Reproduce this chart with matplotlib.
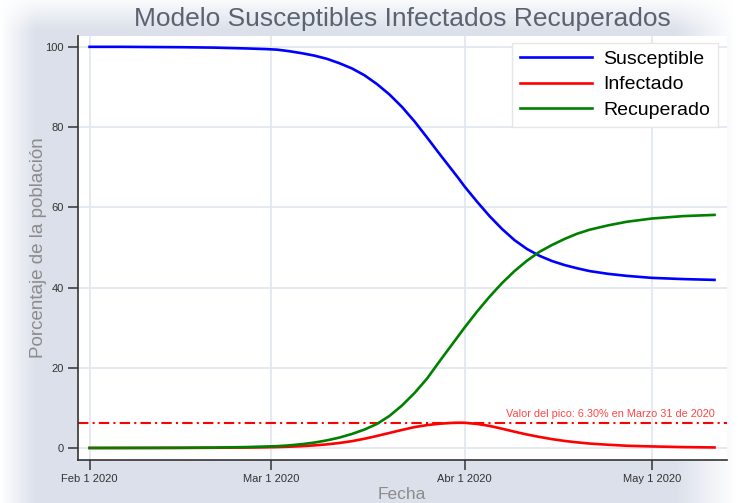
import numpy as np
import matplotlib
matplotlib.use("Agg")
import matplotlib.pyplot as plt

plt.rcParams['font.family'] = ['Liberation Sans', 'DejaVu Sans']

# dias desde el 1 de febrero de 2020
dias = [0, 5, 10, 15, 20, 25, 28,
        30, 32, 34, 36, 38, 40, 42, 44, 46, 48, 50, 52, 54, 56, 58,
        59,
        60, 62, 64, 66, 68, 70, 72, 74, 76, 78, 80,
        83, 86, 90, 95, 100]
susceptible = [100.0, 100.0, 99.95, 99.9, 99.8, 99.6, 99.45,
               99.3, 98.9, 98.4, 97.8, 97.0, 95.9, 94.6, 92.9, 90.7, 88.1, 85.0,
               81.4, 77.4, 73.3, 69.3,
               67.3,
               65.2, 61.4, 57.8, 54.6, 51.8, 49.6, 47.9, 46.6, 45.6, 44.8, 44.1,
               43.4, 42.9, 42.4, 42.1, 41.9]
infectado = [0.0, 0.0, 0.01, 0.02, 0.05, 0.1, 0.16,
             0.22, 0.32, 0.45, 0.65, 0.9, 1.25, 1.7, 2.3, 3.0, 3.75, 4.5, 5.2,
             5.7, 6.05, 6.25,
             6.3,
             6.28, 6.0, 5.5, 4.8, 4.05, 3.35, 2.75, 2.2, 1.75, 1.4, 1.1,
             0.8, 0.55, 0.38, 0.22, 0.13]
recuperado = [0.0, 0.01, 0.02, 0.05, 0.1, 0.22, 0.35,
              0.45, 0.65, 0.95, 1.35, 1.9, 2.6, 3.5, 4.6, 6.0, 8.0, 10.6, 13.7,
              17.3, 21.6, 25.8,
              27.9,
              30.0, 34.0, 37.7, 41.1, 44.1, 46.7, 48.9, 50.6, 52.1, 53.4, 54.4,
              55.5, 56.4, 57.2, 57.8, 58.1]
pico = 6.30
texto_pico = "Valor del pico: 6.30% en Marzo 31 de 2020"
ticks_fecha = ["2020-02-01", "2020-03-01", "2020-04-01", "2020-05-01"]
etiquetas_fecha = ["Feb 1 2020", "Mar 1 2020", "Abr 1 2020", "May 1 2020"]

fechas = np.datetime64("2020-02-01") + np.array(dias).astype("timedelta64[D]")

fig = plt.figure(figsize=(7.38, 5.03), dpi=100, facecolor="white")

# fondo con sombra suave alrededor
H, W = 503, 738
yy, xx = np.mgrid[0:H, 0:W]
w = np.clip(xx / 35.0, 0, 1) * np.clip((735 - xx) / 60.0, 0, 1) * np.clip((yy + 5) / 35.0, 0, 1)
gris = np.array([0.86, 0.88, 0.92])
fondo = 1 - w[..., None] * (1 - gris)
fig.figimage(fondo, origin="upper", zorder=-1)

ax = fig.add_axes([77.6 / W, 1 - 460 / H, (727 - 77.6) / W, (460 - 36) / H])
ax.set_facecolor("white")

ax.plot(fechas, susceptible, color="#0000ff", lw=1.9, label="Susceptible", zorder=3)
ax.plot(fechas, infectado, color="#ff0000", lw=1.9, label="Infectado", zorder=3)
ax.plot(fechas, recuperado, color="#008000", lw=1.9, label="Recuperado", zorder=3)

ax.axhline(pico, color="#ff0000", lw=1.5, ls=(0, (5, 2, 1, 2)), zorder=2)
ax.annotate(texto_pico, xy=(fechas[-1], pico), xytext=(0, 3), textcoords="offset points",
            ha="right", va="bottom", color="#ff4545", fontsize=7.8)

ax.set_xlim(np.datetime64("2020-02-01") - np.timedelta64(46, "h"),
            np.datetime64("2020-02-01") + np.timedelta64(102 * 24, "h"))
ax.set_ylim(-3, 102.7)
ax.set_xticks(np.array(ticks_fecha, dtype="datetime64[D]"))
ax.set_xticklabels(etiquetas_fecha)
ax.set_yticks([0, 20, 40, 60, 80, 100])

ax.grid(True, color="#e3e7f1", lw=1.3, zorder=0)
ax.set_axisbelow(True)
for s in ["top", "right"]:
    ax.spines[s].set_visible(False)
for s in ["left", "bottom"]:
    ax.spines[s].set_color("#333333")
    ax.spines[s].set_linewidth(1.2)
ax.tick_params(axis="both", length=7, width=1.1, color="#333333", labelsize=8,
               labelcolor="#333333", pad=3)

ax.set_ylabel("Porcentaje de la población", fontsize=13.5, color="#8c8c8c", labelpad=-1)
ax.set_xlabel("Fecha", fontsize=12.5, color="#8c8c8c", labelpad=2)
fig.text(402 / W, 1 - 19 / H, "Modelo Susceptibles Infectados Recuperados",
         ha="center", va="center", fontsize=19, color="#5c6370")

leg = ax.legend(loc="upper right", bbox_to_anchor=(718 / W, 1 - 42.7 / H),
                bbox_transform=fig.transFigure, borderaxespad=0, fontsize=14,
                handlelength=3.7, handletextpad=0.6, labelspacing=0.4,
                fancybox=False, framealpha=1, edgecolor="#e6e6e6")

fig.savefig("out.png", dpi=100, facecolor=fig.get_facecolor())
